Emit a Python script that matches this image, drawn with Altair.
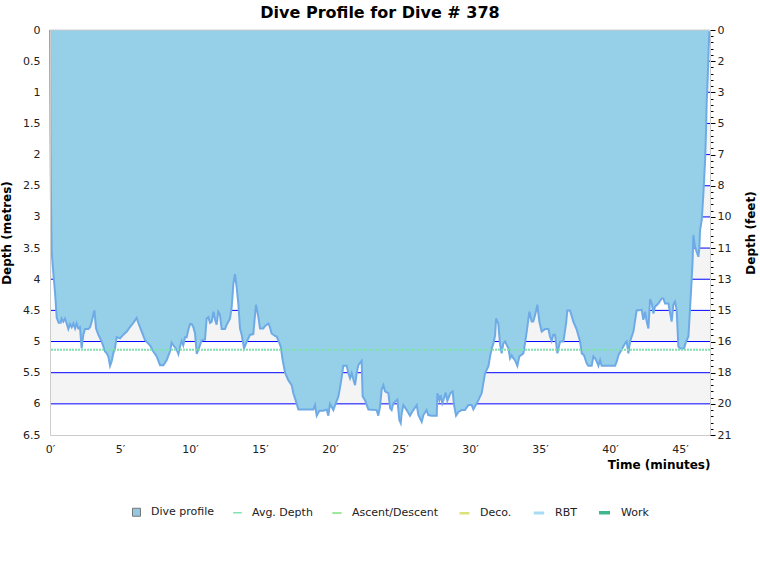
import altair as alt
import pandas as pd

# ---------------- data ----------------
TIME = [0.00, 0.03, 0.07, 0.12, 0.24, 0.36, 0.48, 0.62, 0.76, 0.83, 0.95, 1.07, 1.19, 1.31, 1.43, 1.55,
        1.67, 1.79, 1.90, 2.02, 2.14, 2.26, 2.38, 2.50, 2.74, 2.86, 2.98, 3.17, 3.29, 3.45, 3.69, 3.93,
        4.05, 4.17, 4.29, 4.40, 4.52, 4.64, 4.76, 5.00, 5.24, 5.48, 5.71, 5.95, 6.19, 6.31, 6.55, 6.79,
        7.14, 7.38, 7.62, 7.86, 8.10, 8.33, 8.57, 8.69, 8.81, 9.05, 9.17, 9.29, 9.40, 9.52, 9.64, 9.76,
        9.88, 10.00, 10.12, 10.24, 10.36, 10.48, 10.60, 10.71, 10.83, 11.07, 11.19, 11.31, 11.43, 11.55,
        11.67, 11.79, 11.90, 12.02, 12.14, 12.26, 12.50, 12.62, 12.86, 12.98, 13.10, 13.21, 13.33, 13.45,
        13.57, 13.69, 13.86, 14.05, 14.29, 14.52, 14.71, 14.88, 15.00, 15.24, 15.36, 15.60, 15.71, 15.83,
        16.07, 16.19, 16.31, 16.48, 16.62, 16.79, 17.02, 17.26, 17.38, 17.57, 17.74, 18.81, 18.93, 19.05,
        19.24, 19.52, 19.76, 19.88, 20.00, 20.12, 20.24, 20.36, 20.60, 20.79, 20.95, 21.19, 21.31, 21.43,
        21.55, 21.67, 21.79, 21.90, 22.02, 22.26, 22.33, 22.50, 22.74, 23.33, 23.45, 23.57, 23.69, 23.81,
        23.93, 24.17, 24.29, 24.40, 24.52, 24.81, 24.95, 25.05, 25.12, 25.24, 25.48, 25.71, 25.95, 26.19,
        26.31, 26.55, 26.67, 26.90, 27.02, 27.26, 27.62, 27.67, 27.81, 27.90, 28.02, 28.14, 28.26, 28.38,
        28.50, 28.62, 28.76, 28.86, 29.00, 29.17, 29.40, 29.64, 29.88, 30.12, 30.24, 30.36, 30.60, 30.83,
        30.95, 31.07, 31.31, 31.43, 31.55, 31.67, 31.79, 31.86, 32.02, 32.14, 32.26, 32.38, 32.50, 32.74,
        32.86, 32.98, 33.10, 33.21, 33.38, 33.52, 33.81, 33.93, 34.05, 34.24, 34.40, 34.52, 34.71, 34.81,
        34.95, 35.12, 35.36, 35.60, 35.71, 35.83, 35.95, 36.07, 36.24, 36.43, 36.67, 36.86, 36.95, 37.14,
        37.38, 37.62, 37.86, 37.98, 38.14, 38.33, 38.45, 38.69, 38.81, 38.93, 39.05, 39.17, 39.29, 39.40,
        40.36, 40.48, 40.60, 40.83, 41.07, 41.19, 41.31, 41.43, 41.67, 41.90, 42.26, 42.38, 42.50, 42.62,
        42.74, 42.86, 42.98, 43.10, 43.21, 43.45, 43.69, 43.81, 43.93, 44.17, 44.29, 44.40, 44.52, 44.64,
        44.76, 44.88, 45.00, 45.29, 45.43, 45.60, 45.71, 45.83, 45.90, 45.95, 46.07, 46.31, 46.38, 46.43,
        46.55, 46.67, 46.79, 46.86, 46.90, 46.98, 47.05, 47.10]
DEPTH = [0.00, 1.60, 2.75, 3.56, 3.90, 4.22, 4.62, 4.70, 4.70, 4.63, 4.68, 4.63, 4.71, 4.80, 4.72, 4.77,
         4.71, 4.79, 4.71, 4.79, 4.77, 5.11, 4.89, 4.80, 4.80, 4.77, 4.68, 4.50, 4.79, 4.89, 5.00, 5.16,
         5.19, 5.24, 5.39, 5.32, 5.19, 5.11, 4.93, 4.95, 4.89, 4.84, 4.77, 4.70, 4.62, 4.70, 4.84, 4.98,
         5.06, 5.16, 5.24, 5.38, 5.38, 5.30, 5.16, 5.02, 5.06, 5.13, 5.20, 5.08, 4.99, 5.06, 4.93, 4.93,
         4.81, 4.72, 4.72, 4.77, 4.87, 5.20, 5.13, 5.06, 4.98, 4.97, 4.63, 4.61, 4.70, 4.68,
         4.52, 4.65, 4.73, 4.52, 4.57, 4.80, 4.80, 4.73, 4.63, 4.44, 4.07, 3.92, 4.12, 4.39,
         4.79, 4.89, 5.11, 5.00, 4.89, 4.88, 4.41, 4.60, 4.79, 4.79, 4.75, 4.71, 4.77, 4.87,
         4.91, 4.92, 4.98, 5.08, 5.30, 5.50, 5.62, 5.70, 5.83, 5.96, 6.09, 6.09, 6.02, 6.19,
         6.11, 6.11, 6.09, 6.19, 6.00, 6.05, 6.10, 6.02, 5.88, 5.64, 5.39, 5.39, 5.51, 5.59,
         5.51, 5.61, 5.70, 5.51, 5.38, 5.31, 5.88, 5.94, 6.09, 6.10, 6.19, 6.05, 5.77, 5.70,
         5.80, 5.83, 6.07, 6.10, 5.99, 5.93, 6.26, 6.31, 6.15, 6.02, 6.10, 6.19, 6.10, 6.02,
         6.18, 6.29, 6.18, 6.10, 6.18, 6.19, 6.19, 5.83, 5.94, 5.86, 5.99, 5.91, 5.82, 5.95,
         5.88, 5.82, 5.80, 6.02, 6.19, 6.13, 6.10, 6.10, 6.02, 6.02, 6.09, 6.04, 5.94, 5.83,
         5.67, 5.51, 5.40, 5.24, 5.11, 5.03, 4.90, 4.63, 4.71, 5.03, 5.19, 5.03, 5.00, 5.11,
         5.27, 5.22, 5.27, 5.30, 5.39, 5.24, 5.19, 5.02, 4.84, 4.52, 4.68, 4.68, 4.52, 4.41,
         4.68, 4.84, 4.80, 4.80, 4.92, 4.99, 4.89, 4.89, 5.19, 5.00, 5.00, 4.71, 4.50, 4.50,
         4.68, 4.81, 5.00, 5.19, 5.22, 5.35, 5.39, 5.39, 5.24, 5.27, 5.32, 5.39, 5.30, 5.39,
         5.39, 5.32, 5.22, 5.13, 5.03, 5.00, 5.19, 5.00, 4.84, 4.50, 4.49, 4.65, 4.52, 4.68,
         4.79, 4.32, 4.39, 4.55, 4.44, 4.39, 4.31, 4.31, 4.39, 4.39, 4.54, 4.68, 4.41, 4.36,
         4.49, 5.08, 5.11, 5.11, 5.00, 4.92, 4.49, 4.01, 3.69, 3.29, 3.48, 3.64, 3.50, 3.21,
         3.05, 2.62, 2.09, 1.60, 1.18, 0.75, 0.27, 0.02]

AVG_DEPTH = [5.13]
T_MAX = 47.14

BAND_START = [0.5, 1.5, 2.5, 3.5, 4.5, 5.5]
BAND_END = [1.0, 2.0, 3.0, 4.0, 5.0, 6.0]
GRID_DEPTHS = [0.5, 1.0, 1.5, 2.0, 2.5, 3.0, 3.5, 4.0, 4.5, 5.0, 5.5, 6.0]
METRE_TICKS = [0, 0.5, 1, 1.5, 2, 2.5, 3, 3.5, 4, 4.5, 5, 5.5, 6, 6.5]
MINOR_TICKS = [round(i * 0.1, 1) for i in range(66)]
X_TICKS = [0, 5, 10, 15, 20, 25, 30, 35, 40, 45]

SERIES = ["Dive profile", "Avg. Depth", "Ascent/Descent", "Deco.", "RBT", "Work"]
SERIES_FILLS = ["#93c8e0", "#7fe3b5", "#9fe99b", "#dbe27a", "#a6dbf3", "#3cb88c"]
SERIES_STROKES = ["#777777", "#7fe3b5", "#9fe99b", "#dbe27a", "#a6dbf3", "#3cb88c"]
SERIES_SHAPES = ["square", "stroke", "stroke", "stroke", "stroke", "stroke"]
SERIES_SIZES = [64, 121, 121, 121, 121, 121]
SERIES_WIDTHS = [1, 3.5, 3.5, 3.5, 3.5, 3.5]

FONT = "DejaVu Sans"

profile_df = pd.DataFrame({"time": TIME, "depth": DEPTH})
bands_df = pd.DataFrame({"start": BAND_START, "end": BAND_END})
grid_df = pd.DataFrame({"depth": GRID_DEPTHS})
avg_df = pd.DataFrame({"depth": AVG_DEPTH})
top_df = pd.DataFrame({"depth": [0.0]})
legend_df = pd.DataFrame({"series": SERIES})

yscale = alt.Scale(domain=[0, 6.5], reverse=True, nice=False)
xscale = alt.Scale(domain=[0, T_MAX], nice=False, zero=False)

x_axis = alt.Axis(values=X_TICKS, labelExpr="datum.value + '′'", title="Time (minutes)",
                  titleAnchor="end", titleFontWeight="bold", titleFontSize=12, titleColor="#000000",
                  ticks=False, labelPadding=8, labelFontSize=11, labelColor="#222222",
                  labelFlush=False, domainColor="#cccccc", grid=False, titlePadding=5, zindex=1)
X = alt.X("time:Q", scale=xscale, axis=x_axis)

left_axis = alt.Axis(orient="left", values=METRE_TICKS, format="~g", title="Depth (metres)",
                     titleFontWeight="bold", titleFontSize=12, titleColor="#000000", ticks=False,
                     labelPadding=10, labelFontSize=11, labelColor="#222222", labelFlush=False,
                     domainColor="#cccccc", grid=False, titlePadding=9, zindex=1)
right_axis = alt.Axis(orient="right", values=METRE_TICKS, labelExpr="round(datum.value * 3.28084)",
                      title="Depth (feet)", titleAngle=270, titleFontWeight="bold", titleFontSize=12,
                      titleColor="#000000", tickSize=5, tickColor="#000000", labelPadding=2,
                      labelFontSize=11, labelColor="#222222", labelFlush=False,
                      domainColor="#cccccc", grid=False, titlePadding=27, zindex=1)
minor_axis = alt.Axis(orient="right", values=MINOR_TICKS, labels=False, tickSize=3,
                      tickColor="#000000", domain=False, grid=False, title=None, zindex=1)

bands = alt.Chart(bands_df).mark_rect(color="#f4f4f4").encode(
    y=alt.Y("start:Q", scale=yscale, axis=minor_axis), y2="end:Q")

grid = alt.Chart(grid_df).mark_rule(color="#0000ff", strokeWidth=1).encode(
    y=alt.Y("depth:Q", scale=yscale, axis=left_axis))

area = alt.Chart(profile_df).mark_area(color="#96cfe8", opacity=1).encode(
    x=X, y=alt.Y("depth:Q", scale=yscale, axis=None), y2=alt.datum(0))

line = alt.Chart(profile_df).mark_line(color="#6eabe6", strokeWidth=2).encode(
    x=X, y=alt.Y("depth:Q", scale=yscale, axis=None))

avg = alt.Chart(avg_df).mark_rule(color="#80e0b0", strokeWidth=2, strokeDash=[2, 1]).encode(
    y=alt.Y("depth:Q", scale=yscale, axis=right_axis))

top = alt.Chart(top_df).mark_rule(color="#cccccc", strokeWidth=1).encode(
    y=alt.Y("depth:Q", scale=yscale, axis=None))

leg = alt.Legend(title=None, orient="none", legendX=81, legendY=475, direction="horizontal",
                 labelFontSize=11, labelColor="#222222", labelFont=FONT, labelOffset=9,
                 columnPadding=15, padding=0)
legend_layer = alt.Chart(legend_df).transform_filter("false").mark_point(opacity=1).encode(
    fill=alt.Fill("series:N", scale=alt.Scale(domain=SERIES, range=SERIES_FILLS), legend=leg),
    stroke=alt.Stroke("series:N", scale=alt.Scale(domain=SERIES, range=SERIES_STROKES), legend=leg),
    shape=alt.Shape("series:N", scale=alt.Scale(domain=SERIES, range=SERIES_SHAPES), legend=leg),
    size=alt.Size("series:N", scale=alt.Scale(domain=SERIES, range=SERIES_SIZES), legend=leg),
    strokeWidth=alt.StrokeWidth("series:N", scale=alt.Scale(domain=SERIES, range=SERIES_WIDTHS), legend=leg),
)

chart = alt.layer(bands, grid, area, line, avg, top, legend_layer).resolve_axis(
    y="independent"
).properties(
    width=660, height=405,
    title=alt.TitleParams("Dive Profile for Dive # 378", fontSize=16, fontWeight="bold",
                          font=FONT, anchor="middle", offset=3, color="#000000"),
    autosize=alt.AutoSizeParams(type="none"),
    padding={"left": 50, "top": 30, "right": 50, "bottom": 145},
).configure(font=FONT).configure_view(stroke=None)

chart.save("out.html", embed_options={"renderer": "svg", "actions": False})
